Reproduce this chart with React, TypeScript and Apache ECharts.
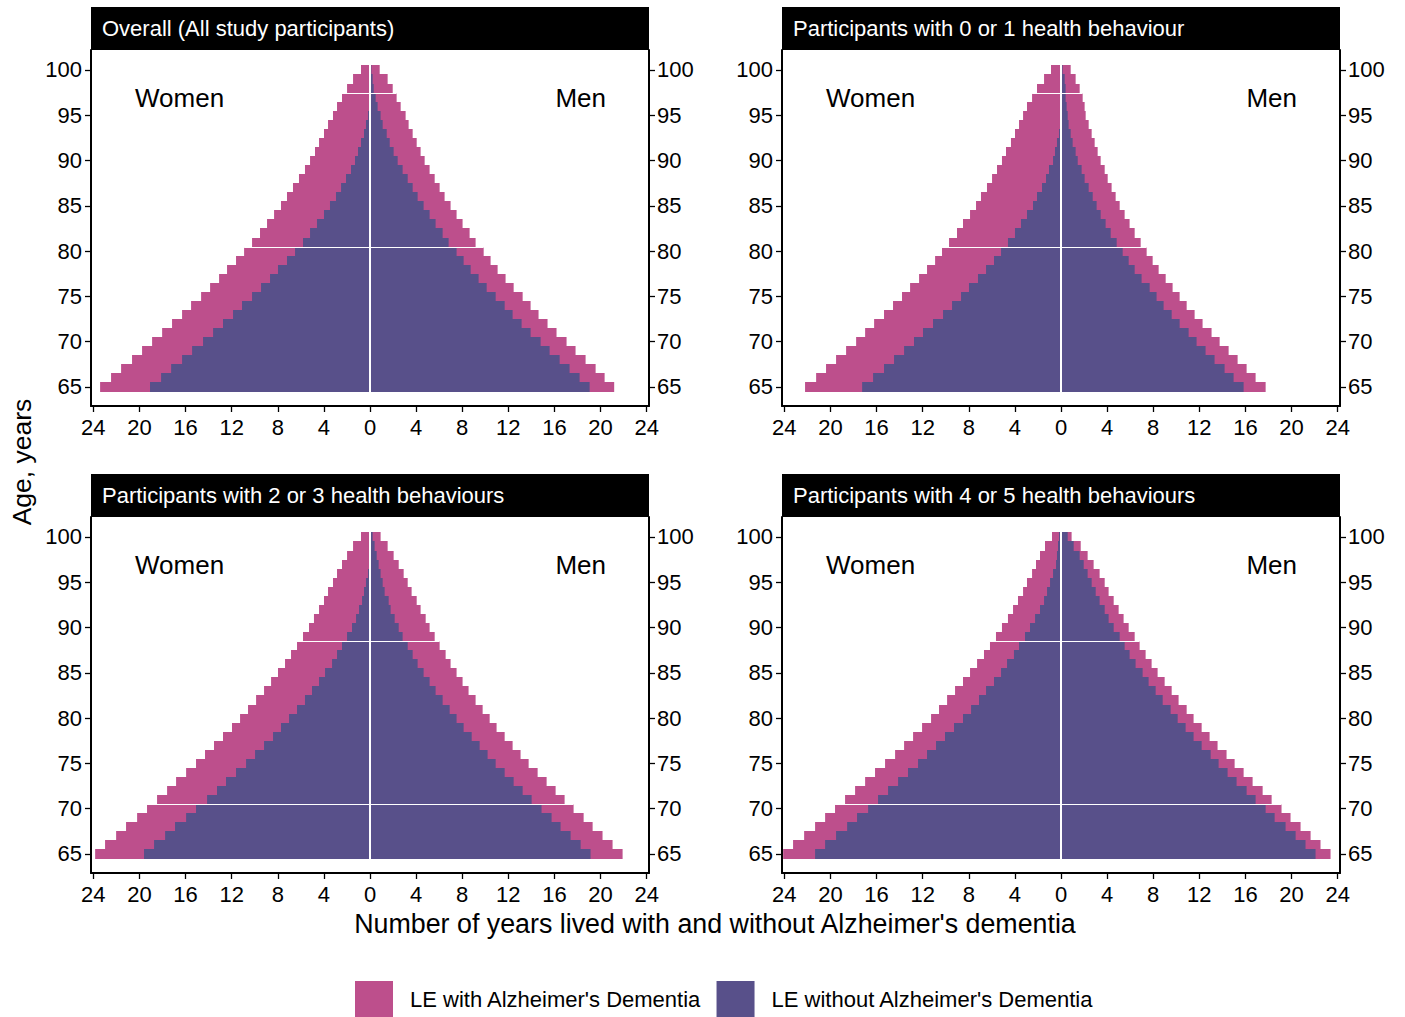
import React, { useEffect, useRef } from "react";
import * as echarts from "echarts";

// ---------- data ----------
const ages = [65, 66, 67, 68, 69, 70, 71, 72, 73, 74, 75, 76, 77, 78, 79, 80, 81, 82, 83, 84, 85, 86, 87, 88, 89, 90, 91, 92, 93, 94, 95, 96, 97, 98, 99, 100];
const yTicks = [65, 70, 75, 80, 85, 90, 95, 100];
const xTicks = [-24, -20, -16, -12, -8, -4, 0, 4, 8, 12, 16, 20, 24];

const panelTitles = [
  "Overall (All study participants)",
  "Participants with 0 or 1 health behaviour",
  "Participants with 2 or 3 health behaviours",
  "Participants with 4 or 5 health behaviours",
];
const seriesNames = ["LE with Alzheimer's Dementia", "LE without Alzheimer's Dementia"];

// Overall
const overallWomenTotal = [23.41, 22.46, 21.59, 20.64, 19.77, 18.9, 18.03, 17.17, 16.3, 15.52, 14.65, 13.87, 13.09, 12.4, 11.62, 10.92, 10.23, 9.54, 8.93, 8.32, 7.72, 7.2, 6.68, 6.16, 5.64, 5.2, 4.77, 4.42, 3.99, 3.64, 3.21, 2.86, 2.43, 1.99, 1.47, 0.78];
const overallWomenNoAD = [19.08, 18.12, 17.25, 16.3, 15.43, 14.48, 13.61, 12.75, 11.88, 11.1, 10.23, 9.45, 8.67, 7.98, 7.2, 6.5, 5.81, 5.2, 4.6, 3.99, 3.47, 2.95, 2.51, 2.08, 1.65, 1.3, 1.04, 0.78, 0.52, 0.35, 0.17, 0.08, 0.04, 0, 0, 0];
const overallMenTotal = [21.18, 20.35, 19.57, 18.7, 17.83, 17.05, 16.18, 15.4, 14.62, 13.93, 13.24, 12.46, 11.76, 11.07, 10.46, 9.86, 9.16, 8.64, 8.03, 7.51, 6.99, 6.47, 6.04, 5.61, 5.17, 4.74, 4.39, 4.05, 3.7, 3.35, 3.09, 2.66, 2.31, 1.97, 1.53, 0.84];
const overallMenNoAD = [19.05, 18.18, 17.31, 16.45, 15.58, 14.8, 13.93, 13.15, 12.37, 11.68, 10.9, 10.12, 9.42, 8.73, 8.12, 7.51, 6.82, 6.3, 5.69, 5.17, 4.65, 4.13, 3.7, 3.27, 2.83, 2.4, 2.05, 1.71, 1.45, 1.1, 0.92, 0.66, 0.49, 0.32, 0.23, 0.12];

// 0 or 1 health behaviour
const low01WomenTotal = [22.2, 21.24, 20.38, 19.51, 18.64, 17.77, 16.99, 16.21, 15.35, 14.57, 13.79, 13.09, 12.31, 11.62, 10.92, 10.32, 9.71, 9.02, 8.5, 7.89, 7.37, 6.94, 6.42, 5.98, 5.55, 5.12, 4.77, 4.34, 3.99, 3.64, 3.29, 2.95, 2.51, 2.08, 1.47, 0.87];
const low01WomenNoAD = [17.25, 16.3, 15.35, 14.48, 13.61, 12.75, 11.97, 11.1, 10.23, 9.45, 8.67, 7.98, 7.2, 6.5, 5.81, 5.2, 4.6, 3.99, 3.47, 2.95, 2.43, 2.08, 1.65, 1.3, 1.04, 0.69, 0.52, 0.35, 0.17, 0.05, 0, 0, 0, 0, 0, 0];
const low01MenTotal = [17.75, 16.88, 16.1, 15.32, 14.54, 13.76, 13.06, 12.28, 11.59, 10.9, 10.29, 9.68, 9.08, 8.47, 7.95, 7.43, 6.91, 6.39, 5.95, 5.52, 5.09, 4.74, 4.39, 4.05, 3.79, 3.44, 3.18, 2.92, 2.66, 2.4, 2.14, 2.05, 1.88, 1.62, 1.27, 0.84];
const low01MenNoAD = [15.84, 14.97, 14.19, 13.32, 12.54, 11.76, 11.07, 10.29, 9.6, 8.9, 8.29, 7.69, 6.99, 6.39, 5.87, 5.35, 4.83, 4.31, 3.87, 3.44, 3.09, 2.75, 2.4, 2.05, 1.79, 1.45, 1.27, 1.01, 0.84, 0.66, 0.58, 0.49, 0.4, 0.4, 0.32, 0.14];

// 2 or 3 health behaviours
const mid23WomenTotal = [23.84, 22.98, 22.02, 21.16, 20.2, 19.34, 18.47, 17.6, 16.82, 15.95, 15.09, 14.31, 13.53, 12.75, 11.97, 11.27, 10.58, 9.88, 9.19, 8.58, 7.98, 7.37, 6.85, 6.33, 5.81, 5.29, 4.86, 4.42, 3.99, 3.64, 3.21, 2.86, 2.43, 1.99, 1.47, 0.78];
const mid23WomenNoAD = [19.6, 18.73, 17.77, 16.91, 15.95, 15.09, 14.13, 13.27, 12.49, 11.62, 10.75, 9.97, 9.19, 8.41, 7.72, 7.02, 6.33, 5.64, 5.03, 4.42, 3.9, 3.29, 2.86, 2.43, 1.99, 1.56, 1.21, 0.95, 0.69, 0.52, 0.35, 0.17, 0.06, 0, 0, 0];
const mid23MenTotal = [21.91, 21.04, 20.17, 19.31, 18.53, 17.66, 16.88, 16.1, 15.32, 14.54, 13.76, 13.06, 12.37, 11.68, 10.98, 10.38, 9.77, 9.16, 8.55, 8.03, 7.51, 6.99, 6.56, 6.04, 5.61, 5.17, 4.83, 4.39, 4.05, 3.61, 3.27, 2.92, 2.49, 2.05, 1.53, 0.92];
const mid23MenNoAD = [19.13, 18.27, 17.4, 16.53, 15.75, 14.88, 14.02, 13.24, 12.46, 11.68, 10.9, 10.2, 9.51, 8.82, 8.12, 7.51, 6.91, 6.3, 5.69, 5.17, 4.65, 4.13, 3.7, 3.27, 2.83, 2.49, 2.14, 1.79, 1.62, 1.27, 1.1, 0.92, 0.75, 0.58, 0.4, 0.23];

// 4 or 5 health behaviours
const high45WomenTotal = [24.1, 23.24, 22.28, 21.33, 20.46, 19.6, 18.73, 17.86, 16.99, 16.13, 15.26, 14.39, 13.61, 12.83, 12.05, 11.27, 10.58, 9.88, 9.19, 8.5, 7.89, 7.28, 6.68, 6.16, 5.64, 5.12, 4.6, 4.16, 3.73, 3.29, 2.95, 2.51, 2.17, 1.82, 1.39, 0.78];
const high45WomenNoAD = [21.33, 20.46, 19.51, 18.55, 17.69, 16.73, 15.87, 15.0, 14.13, 13.27, 12.4, 11.62, 10.84, 10.06, 9.28, 8.5, 7.8, 7.11, 6.5, 5.81, 5.2, 4.68, 4.08, 3.64, 3.12, 2.69, 2.25, 1.82, 1.47, 1.21, 0.95, 0.69, 0.43, 0.35, 0.26, 0.17];
const high45MenTotal = [23.38, 22.51, 21.65, 20.78, 19.91, 19.13, 18.27, 17.49, 16.62, 15.84, 15.06, 14.36, 13.58, 12.89, 12.2, 11.5, 10.9, 10.2, 9.6, 8.99, 8.38, 7.86, 7.34, 6.82, 6.39, 5.87, 5.43, 5.0, 4.57, 4.13, 3.79, 3.35, 2.83, 2.31, 1.71, 0.92];
const high45MenNoAD = [22.08, 21.21, 20.35, 19.48, 18.53, 17.75, 16.88, 16.1, 15.23, 14.45, 13.67, 12.98, 12.2, 11.5, 10.81, 10.12, 9.51, 8.82, 8.21, 7.6, 7.08, 6.47, 5.95, 5.52, 5.09, 4.57, 4.13, 3.79, 3.35, 3.01, 2.66, 2.31, 1.97, 1.62, 1.1, 0.58];

// thin white seams visible in the original rendering (between age rows)
const seamAges = [
  [80.5, 97.5],
  [80.5, 97.5],
  [70.5, 88.5],
  [70.5, 88.5],
];

// ---------- styling ----------
const FONT = "'Liberation Sans', Arial, Helvetica, sans-serif";
const PINK = "#BD4F8C";
const PURPLE = "#58508A";
const GRID_W = 558;
const GRID_H = 356;
const gridPos = [
  { left: 91, top: 50 },
  { left: 782, top: 50 },
  { left: 91, top: 517 },
  { left: 782, top: 517 },
];
const X_MIN = -24.2;
const X_MAX = 24.2;
const Y_MIN = 62.9;
const Y_MAX = 102.2;

const panels = [
  { wT: overallWomenTotal, wN: overallWomenNoAD, mT: overallMenTotal, mN: overallMenNoAD },
  { wT: low01WomenTotal, wN: low01WomenNoAD, mT: low01MenTotal, mN: low01MenNoAD },
  { wT: mid23WomenTotal, wN: mid23WomenNoAD, mT: mid23MenTotal, mN: mid23MenNoAD },
  { wT: high45WomenTotal, wN: high45WomenNoAD, mT: high45MenTotal, mN: high45MenNoAD },
];

function rectRenderer(color: string) {
  return (_params: any, api: any) => {
    const a = api.value(0);
    const x0 = api.value(1);
    const x1 = api.value(2);
    const p0 = api.coord([x0, a + 0.5]);
    const p1 = api.coord([x1, a - 0.5]);
    const left = Math.min(p0[0], p1[0]);
    const w = Math.abs(p1[0] - p0[0]);
    const yTop = Math.round(p0[1]);
    const yBot = Math.round(p1[1]);
    if (w <= 0) return null;
    return {
      type: "rect",
      shape: { x: left, y: yTop, width: w, height: yBot - yTop },
      style: { fill: color },
    };
  };
}

function lineRenderer(width: number) {
  return (_params: any, api: any) => {
    const a = api.value(0);
    const x0 = api.value(1);
    const x1 = api.value(2);
    const p0 = api.coord([x0, a]);
    const p1 = api.coord([x1, a]);
    const y = Math.round(p0[1]) + 0.5;
    return {
      type: "line",
      shape: { x1: p0[0], y1: y, x2: p1[0], y2: y },
      style: { stroke: "#ffffff", lineWidth: width },
    };
  };
}

function zeroRenderer(_params: any, api: any) {
  const x = api.value(0);
  const p0 = api.coord([x, api.value(1)]);
  const p1 = api.coord([x, api.value(2)]);
  return {
    type: "line",
    shape: { x1: p0[0], y1: Math.round(p0[1]), x2: p1[0], y2: Math.round(p1[1]) },
    style: { stroke: "#ffffff", lineWidth: 2 },
  };
}

function buildOption() {
  const grid = gridPos.map((g) => ({ left: g.left, top: g.top, width: GRID_W, height: GRID_H, containLabel: false }));

  const xAxis = gridPos.map((_g, i) => ({
    type: "value",
    gridIndex: i,
    min: X_MIN,
    max: X_MAX,
    axisLine: { show: true, onZero: false, lineStyle: { color: "#000", width: 2 } },
    axisTick: { show: true, length: 6, customValues: xTicks, lineStyle: { color: "#000", width: 1.3 } },
    axisLabel: {
      show: true,
      customValues: xTicks,
      formatter: (v: number) => String(Math.abs(v)),
      fontSize: 22,
      fontFamily: FONT,
      color: "#000",
      margin: 10,
    },
    splitLine: { show: false },
  }));

  const yAxis: any[] = [];
  gridPos.forEach((_g, i) => {
    (["left", "right"] as const).forEach((pos) => {
      yAxis.push({
        type: "value",
        gridIndex: i,
        position: pos,
        min: Y_MIN,
        max: Y_MAX,
        axisLine: { show: true, onZero: false, lineStyle: { color: "#000", width: 2 } },
        axisTick: { show: true, length: 6, customValues: yTicks, lineStyle: { color: "#000", width: 1.3 } },
        axisLabel: {
          show: true,
          customValues: yTicks,
          fontSize: 22,
          fontFamily: FONT,
          color: "#000",
          margin: pos === "left" ? 9 : 8,
        },
        splitLine: { show: false },
      });
    });
  });

  const series: any[] = [];
  panels.forEach((p, i) => {
    const pinkData = ages
      .map((a, k) => [a, -p.wT[k], 0])
      .concat(ages.map((a, k) => [a, 0, p.mT[k]]));
    const purpleData = ages
      .map((a, k) => [a, -p.wN[k], 0])
      .concat(ages.map((a, k) => [a, 0, p.mN[k]]));
    series.push({
      type: "custom",
      name: seriesNames[0],
      xAxisIndex: i,
      yAxisIndex: i * 2,
      itemStyle: { color: PINK },
      encode: { x: [1, 2], y: 0 },
      renderItem: rectRenderer(PINK),
      data: pinkData,
      silent: true,
    });
    series.push({
      type: "custom",
      name: seriesNames[1],
      xAxisIndex: i,
      yAxisIndex: i * 2,
      itemStyle: { color: PURPLE },
      encode: { x: [1, 2], y: 0 },
      renderItem: rectRenderer(PURPLE),
      data: purpleData,
      silent: true,
    });
    // white seams between rows
    const seamData = seamAges[i].map((s) => {
      const lo = ages.indexOf(Math.floor(s));
      const hi = ages.indexOf(Math.ceil(s));
      const wl = Math.max(p.wT[lo], p.wT[hi]);
      const mr = Math.max(p.mT[lo], p.mT[hi]);
      return [s, -wl, mr];
    });
    series.push({
      type: "custom",
      name: "seam" + i,
      xAxisIndex: i,
      yAxisIndex: i * 2,
      encode: { x: [1, 2], y: 0 },
      renderItem: lineRenderer(1),
      data: seamData,
      silent: true,
    });
    // white line at zero
    series.push({
      type: "custom",
      name: "zero" + i,
      xAxisIndex: i,
      yAxisIndex: i * 2,
      encode: { x: 0, y: [1, 2] },
      renderItem: zeroRenderer,
      data: [[0, ages[0] - 0.5, ages[ages.length - 1] + 0.5]],
      silent: true,
    });
  });

  const graphic: any[] = [];
  gridPos.forEach((g, i) => {
    graphic.push({
      type: "rect",
      shape: { x: g.left, y: g.top - 43, width: GRID_W, height: 43 },
      style: { fill: "#000" },
      silent: true,
    });
    graphic.push({
      type: "text",
      x: g.left + 11,
      y: g.top - 21.5,
      style: { text: panelTitles[i], fill: "#fff", font: `22px ${FONT}`, verticalAlign: "middle", align: "left" },
      silent: true,
    });
    graphic.push({
      type: "text",
      x: g.left + 44,
      y: g.top + 48,
      style: { text: "Women", fill: "#000", font: `26px ${FONT}`, verticalAlign: "middle", align: "left" },
      silent: true,
    });
    graphic.push({
      type: "text",
      x: g.left + GRID_W - 43,
      y: g.top + 48,
      style: { text: "Men", fill: "#000", font: `26px ${FONT}`, verticalAlign: "middle", align: "right" },
      silent: true,
    });
  });
  graphic.push({
    type: "text",
    x: 22,
    y: 462,
    rotation: Math.PI / 2,
    style: { text: "Age, years", fill: "#000", font: `26.5px ${FONT}`, verticalAlign: "middle", align: "center" },
    silent: true,
  });
  graphic.push({
    type: "text",
    x: 715,
    y: 924,
    style: {
      text: "Number of years lived with and without Alzheimer's dementia",
      fill: "#000",
      font: `26.8px ${FONT}`,
      verticalAlign: "middle",
      align: "center",
    },
    silent: true,
  });

  return {
    animation: false,
    backgroundColor: "#ffffff",
    grid,
    xAxis,
    yAxis,
    series,
    graphic,
    legend: {
      data: seriesNames,
      left: 355,
      top: 981,
      padding: 0,
      itemWidth: 38,
      itemHeight: 37,
      itemGap: 15,
      icon: "rect",
      selectedMode: false,
      textStyle: { fontSize: 22, fontFamily: FONT, color: "#000", padding: [0, 0, 0, 12] },
    },
  };
}

export default function App() {
  const ref = useRef<HTMLDivElement>(null);
  useEffect(() => {
    if (!ref.current) return;
    const chart = echarts.init(ref.current, null, { renderer: "svg" });
    chart.setOption(buildOption() as any);
    return () => {
      chart.dispose();
    };
  }, []);
  return (
    <div
      ref={ref}
      style={{ position: "fixed", left: 0, top: 0, width: 1405, height: 1017, background: "#fff" }}
    />
  );
}
